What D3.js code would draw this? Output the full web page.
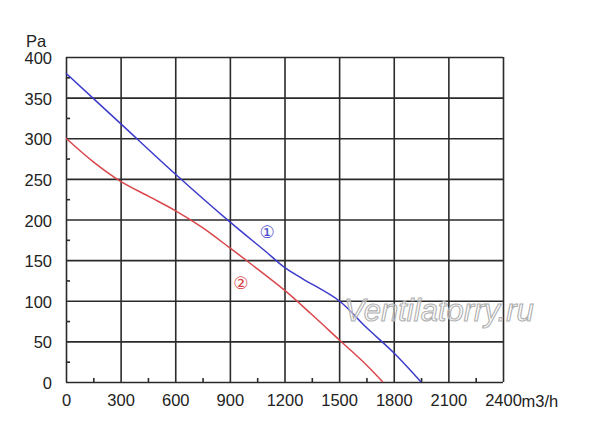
<!DOCTYPE html>
<html>
<head>
<meta charset="utf-8">
<script src="https://cdn.jsdelivr.net/npm/d3@7"></script>
<style>
  body { margin: 0; background: #fff; }
  svg { font-family: "Liberation Sans", Arial, sans-serif; }
  .axis text { font-size: 16.5px; fill: #222; }
</style>
</head>
<body>
<svg></svg>
<script>
//Data
const flowTicks = [0, 300, 600, 900, 1200, 1500, 1800, 2100, 2400];
const pressTicks = [0, 50, 100, 150, 200, 250, 300, 350, 400];

const flowCurve1 = [0, 300, 600, 900, 1100, 1200, 1300, 1500, 1650, 1800, 1950];
const pressCurve1 = [380, 318, 256, 197, 160, 141, 127, 100, 67, 36, 0];

const flowCurve2 = [0, 150, 300, 450, 600, 750, 900, 1000, 1200, 1350, 1500, 1650, 1740];
const pressCurve2 = [300, 271, 247, 229, 211, 190, 165, 148, 113, 83, 52, 21, 0];

const w = 600;
const h = 426;
const plotLeft = 66, plotRight = 503, plotTop = 57, plotBottom = 382;

const chart = d3.select("svg")
                .attr("width", w)
                .attr("height", h);

//Scales
const xScale = d3.scaleLinear().domain([0, 2400]).range([plotLeft, plotRight]);
const yScale = d3.scaleLinear().domain([0, 400]).range([plotBottom, plotTop]);

//Grid lines
chart.append("g")
     .attr("transform", `translate(0, ${plotBottom})`)
     .call(d3.axisBottom(xScale).tickValues(flowTicks).tickSize(-(plotBottom - plotTop)).tickFormat(""))
     .call(g => g.select(".domain").remove())
     .selectAll("line").attr("stroke", "#2a2a2a").attr("stroke-width", 1.6);

chart.append("g")
     .attr("transform", `translate(${plotLeft}, 0)`)
     .call(d3.axisLeft(yScale).tickValues(pressTicks).tickSize(-(plotRight - plotLeft)).tickFormat(""))
     .call(g => g.select(".domain").remove())
     .selectAll("line").attr("stroke", "#2a2a2a").attr("stroke-width", 1.6);

//Minor ticks (inside)
const minorX = flowTicks.slice(0, -1).map(d => d + 150);
const minorY = pressTicks.slice(0, -1).map(d => d + 25);
chart.append("g")
     .attr("transform", `translate(0, ${plotBottom})`)
     .call(d3.axisBottom(xScale).tickValues(minorX).tickSize(-4).tickFormat(""))
     .call(g => g.select(".domain").remove())
     .selectAll("line").attr("stroke", "#2a2a2a").attr("stroke-width", 1.6);
chart.append("g")
     .attr("transform", `translate(${plotLeft}, 0)`)
     .call(d3.axisLeft(yScale).tickValues(minorY).tickSize(-4).tickFormat(""))
     .call(g => g.select(".domain").remove())
     .selectAll("line").attr("stroke", "#2a2a2a").attr("stroke-width", 1.6);

//Axis labels
const xAxis = chart.append("g")
     .classed("axis", true)
     .attr("transform", `translate(0, ${plotBottom})`)
     .call(d3.axisBottom(xScale).tickValues(flowTicks).tickSize(0).tickPadding(12).tickFormat(d3.format("d")));
xAxis.select(".domain").remove();

const yAxis = chart.append("g")
     .classed("axis", true)
     .attr("transform", `translate(${plotLeft}, 0)`)
     .call(d3.axisLeft(yScale).tickValues(pressTicks).tickSize(0).tickPadding(14).tickFormat(d3.format("d")));
yAxis.select(".domain").remove();
yAxis.selectAll("text").attr("dy", "0.4em");

chart.append("text")
     .attr("x", 26).attr("y", 46.5)
     .attr("font-size", 16.5).attr("fill", "#222")
     .text("Pa");

chart.append("text")
     .attr("x", 521.5).attr("y", 406.5)
     .attr("font-size", 16.5).attr("fill", "#222")
     .text("m3/h");

//Curves
const line = d3.line()
               .x(d => xScale(d[0]))
               .y(d => yScale(d[1]))
               .curve(d3.curveCatmullRom.alpha(0.5));

chart.append("path")
     .datum(flowCurve2.map((d, i) => [d, pressCurve2[i]]))
     .attr("d", line)
     .attr("fill", "none")
     .attr("stroke", "#d9474c")
     .attr("stroke-width", 1.5);

chart.append("path")
     .datum(flowCurve1.map((d, i) => [d, pressCurve1[i]]))
     .attr("d", line)
     .attr("fill", "none")
     .attr("stroke", "#3b3bcc")
     .attr("stroke-width", 1.5);

//Curve labels
chart.append("text")
     .attr("x", xScale(1104)).attr("y", yScale(185)).attr("dy", "0.35em")
     .attr("text-anchor", "middle")
     .attr("font-family", "DejaVu Sans")
     .attr("font-size", 17).attr("fill", "#4a4acc")
     .text("①");

chart.append("text")
     .attr("x", xScale(961)).attr("y", yScale(122)).attr("dy", "0.35em")
     .attr("text-anchor", "middle")
     .attr("font-family", "DejaVu Sans")
     .attr("font-size", 17).attr("fill", "#d9474c")
     .text("②");

//Watermark
chart.append("text")
     .attr("x", 439).attr("y", 321)
     .attr("text-anchor", "middle")
     .attr("font-size", 31)
     .attr("font-style", "italic")
     .attr("fill", "#ffffff")
     .attr("fill-opacity", 0.45)
     .attr("stroke", "#b0b0b0")
     .attr("stroke-width", 1.1)
     .text("Ventilatorry.ru");
</script>
</body>
</html>
